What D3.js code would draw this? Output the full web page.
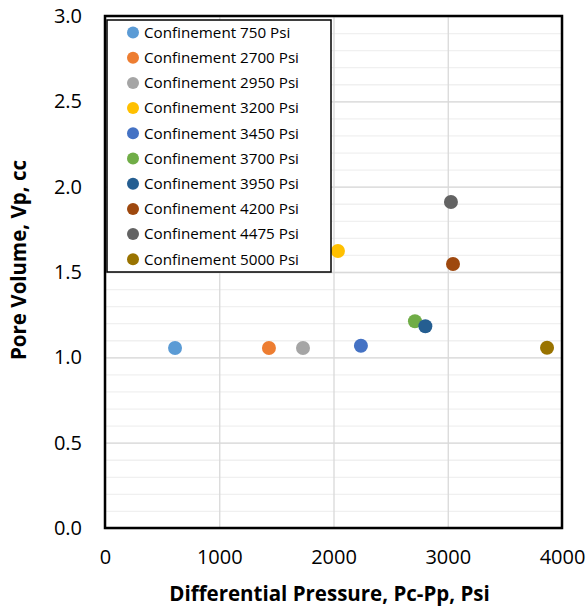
<!DOCTYPE html>
<html>
<head>
<meta charset="utf-8">
<script src="https://cdn.jsdelivr.net/npm/d3@7"></script>
<style>
  body { margin: 0; background: #fff; }
  text { font-family: "Open Sans", sans-serif; fill: #000; }
</style>
</head>
<body>
<div id="chart"></div>
<script>
// Data
const seriesNames = ['Confinement 750 Psi', 'Confinement 2700 Psi', 'Confinement 2950 Psi',
    'Confinement 3200 Psi', 'Confinement 3450 Psi', 'Confinement 3700 Psi',
    'Confinement 3950 Psi', 'Confinement 4200 Psi', 'Confinement 4475 Psi', 'Confinement 5000 Psi']
const diffPressure = [613, 1435, 1733, 2039, 2240, 2713, 2804, 3046, 3028, 3869]
const poreVolume = [1.055, 1.055, 1.055, 1.623, 1.068, 1.211, 1.182, 1.547, 1.910, 1.056]
const colors = ['#5B9BD5', '#ED7D31', '#A5A5A5', '#FFC000', '#4472C4', '#70AD47',
    '#255E91', '#9E480E', '#636363', '#997300']
const xTicks = [0, 1000, 2000, 3000, 4000]
const yTicks = [0, 0.5, 1.0, 1.5, 2.0, 2.5, 3.0]
const yMinor = d3.range(0, 31).map(d => d / 10)

// Dimensions
let margin = { top: 16, right: 25, bottom: 88, left: 105 },
    width = 587 - margin.left - margin.right,
    height = 616 - margin.top - margin.bottom

const svg = d3.select('#chart')
    .append('svg')
    .attr('width', 587)
    .attr('height', 616)

const g = svg.append('g')
    .attr('transform', 'translate(' + margin.left + ',' + margin.top + ')')

// Scales
let x = d3.scaleLinear().domain([0, 4000]).range([0, width])
let y = d3.scaleLinear().domain([0, 3]).range([height, 0])

// Minor grid
g.append('g')
    .call(d3.axisLeft(y).tickValues(yMinor).tickSize(-width).tickFormat(''))
    .call(s => s.select('.domain').remove())
    .selectAll('line').attr('stroke', '#f0f0f0').attr('stroke-width', 1.3)

// Major grid
g.append('g')
    .call(d3.axisLeft(y).tickValues(yTicks).tickSize(-width).tickFormat(''))
    .call(s => s.select('.domain').remove())
    .selectAll('line').attr('stroke', '#d9d9d9').attr('stroke-width', 1.3)

g.append('g')
    .attr('transform', 'translate(0,' + height + ')')
    .call(d3.axisBottom(x).tickValues(xTicks).tickSize(height).tickFormat(''))
    .call(s => s.select('.domain').remove())
    .selectAll('line').attr('transform', 'translate(0,' + (-height) + ')')
    .attr('stroke', '#d9d9d9').attr('stroke-width', 1.3)

// Axis labels
let xAxis = g.append('g')
    .attr('transform', 'translate(0,' + height + ')')
    .call(d3.axisBottom(x).tickValues(xTicks).tickSize(0).tickPadding(22).tickFormat(d3.format('d')))
xAxis.select('.domain').remove()
xAxis.selectAll('text').style('font-size', '20px').style('font-family', '"Open Sans", sans-serif')

let yAxis = g.append('g')
    .call(d3.axisLeft(y).tickValues(yTicks).tickSize(0).tickPadding(23).tickFormat(d3.format('.1f')))
yAxis.select('.domain').remove()
yAxis.selectAll('text').style('font-size', '20px').style('font-family', '"Open Sans", sans-serif')

// Points
g.selectAll('.dot')
    .data(seriesNames)
    .enter()
    .append('circle')
    .attr('class', 'dot')
    .attr('cx', (d, i) => x(diffPressure[i]))
    .attr('cy', (d, i) => y(poreVolume[i]))
    .attr('r', 7)
    .attr('fill', (d, i) => colors[i])

// Plot border
g.append('rect')
    .attr('width', width)
    .attr('height', height)
    .attr('fill', 'none')
    .attr('stroke', '#000')
    .attr('stroke-width', 2.5)

// Legend
const legend = svg.append('g').attr('transform', 'translate(107,20)')
legend.append('rect')
    .attr('width', 224)
    .attr('height', 252)
    .attr('fill', '#fff')
    .attr('stroke', '#000')
    .attr('stroke-width', 1.5)

let rows = legend.selectAll('.item')
    .data(seriesNames)
    .enter()
    .append('g')
    .attr('class', 'item')
    .attr('transform', (d, i) => 'translate(0,' + (12.5 + i * 25.2) + ')')
rows.append('circle')
    .attr('cx', 26)
    .attr('r', 6)
    .attr('fill', (d, i) => colors[i])
rows.append('text')
    .attr('x', 37)
    .attr('dy', '0.35em')
    .style('font-size', '15.2px')
    .text(d => d)

// Titles
svg.append('text')
    .attr('x', margin.left + width / 2 - 4)
    .attr('y', 601)
    .attr('text-anchor', 'middle')
    .style('font-size', '20.5px')
    .style('font-weight', 'bold')
    .text('Differential Pressure, Pc-Pp, Psi')

svg.append('text')
    .attr('transform', 'translate(26,260) rotate(-90)')
    .attr('text-anchor', 'middle')
    .style('font-size', '20.5px')
    .style('font-weight', 'bold')
    .text('Pore Volume, Vp, cc')
</script>
</body>
</html>
